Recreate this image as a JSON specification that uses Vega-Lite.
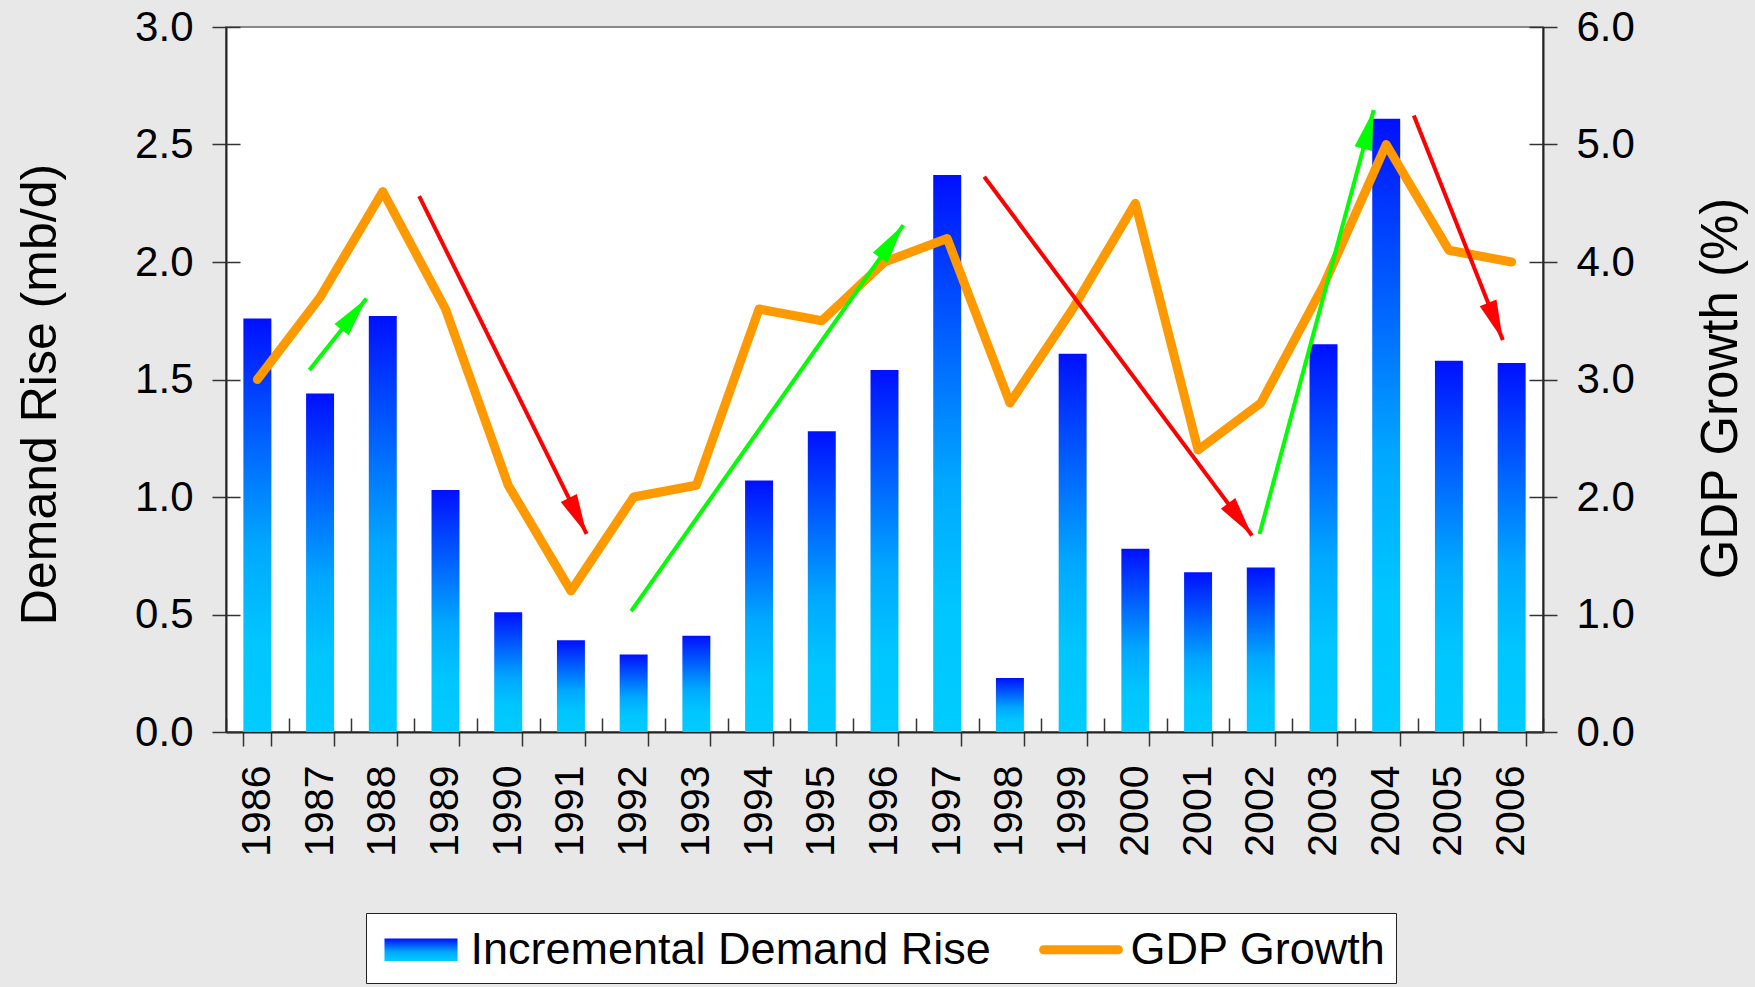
{
  "$schema": "https://vega.github.io/schema/vega-lite/v6.json",
  "autosize": "none",
  "width": 1317,
  "height": 705,
  "padding": {"left": 226, "top": 27, "right": 212, "bottom": 255},
  "background": "#e8e8e8",
  "config": {
    "view": {"fill": "white", "stroke": "#888888", "strokeWidth": 2},
    "axis": {
      "labelFont": "Liberation Sans",
      "titleFont": "Liberation Sans",
      "labelColor": "#000000",
      "titleColor": "#000000",
      "titleFontWeight": "normal",
      "tickColor": "#333333",
      "tickWidth": 1.5,
      "domainColor": "#222222",
      "domainWidth": 2,
      "grid": false
    },
    "legend": {"labelFont": "Liberation Sans"}
  },
  "datasets": {
    "main": [
      {"year": 1986, "demand": 1.76, "gdp": 3.0},
      {"year": 1987, "demand": 1.44, "gdp": 3.7},
      {"year": 1988, "demand": 1.77, "gdp": 4.6},
      {"year": 1989, "demand": 1.03, "gdp": 3.6},
      {"year": 1990, "demand": 0.51, "gdp": 2.1},
      {"year": 1991, "demand": 0.39, "gdp": 1.2},
      {"year": 1992, "demand": 0.33, "gdp": 2.0},
      {"year": 1993, "demand": 0.41, "gdp": 2.1},
      {"year": 1994, "demand": 1.07, "gdp": 3.6},
      {"year": 1995, "demand": 1.28, "gdp": 3.5},
      {"year": 1996, "demand": 1.54, "gdp": 4.0},
      {"year": 1997, "demand": 2.37, "gdp": 4.2},
      {"year": 1998, "demand": 0.23, "gdp": 2.8},
      {"year": 1999, "demand": 1.61, "gdp": 3.6},
      {"year": 2000, "demand": 0.78, "gdp": 4.5},
      {"year": 2001, "demand": 0.68, "gdp": 2.4},
      {"year": 2002, "demand": 0.70, "gdp": 2.8},
      {"year": 2003, "demand": 1.65, "gdp": 3.8},
      {"year": 2004, "demand": 2.61, "gdp": 5.0},
      {"year": 2005, "demand": 1.58, "gdp": 4.1},
      {"year": 2006, "demand": 1.57, "gdp": 4.0}
    ],
    "arrows": [
      {"dir": "up", "x1": 1986.83, "y1": 1.54, "x2": 1987.74, "y2": 1.845},
      {"dir": "down", "x1": 1988.58, "y1": 2.28, "x2": 1991.25, "y2": 0.843},
      {"dir": "up", "x1": 1991.96, "y1": 0.514, "x2": 1996.3, "y2": 2.157},
      {"dir": "down", "x1": 1997.59, "y1": 2.363, "x2": 2001.86, "y2": 0.836},
      {"dir": "up", "x1": 2001.98, "y1": 0.843, "x2": 2003.8, "y2": 2.647},
      {"dir": "down", "x1": 2004.44, "y1": 2.623, "x2": 2005.86, "y2": 1.668}
    ]
  },
  "resolve": {"scale": {"x": "independent", "y": "independent"}},
  "layer": [
    {
      "data": {"name": "main"},
      "mark": {
        "type": "bar",
        "color": {
          "gradient": "linear",
          "x1": 0, "y1": 0, "x2": 0, "y2": 1,
          "stops": [
            {"offset": 0, "color": "#0010ff"},
            {"offset": 0.55, "color": "#00a8ff"},
            {"offset": 0.78, "color": "#00c6ff"},
            {"offset": 1, "color": "#00ccff"}
          ]
        }
      },
      "encoding": {
        "x": {
          "field": "year",
          "type": "ordinal",
          "scale": {"type": "band", "paddingInner": 0.554, "paddingOuter": 0.277},
          "axis": {
            "orient": "bottom",
            "title": null,
            "tickBand": "extent",
            "tickSize": 14,
            "labelAngle": -90,
            "labelFontSize": 41,
            "labelPadding": 19
          }
        },
        "y": {
          "field": "demand",
          "type": "quantitative",
          "scale": {"domain": [0, 3], "nice": false},
          "axis": {
            "orient": "left",
            "values": [0, 0.5, 1, 1.5, 2, 2.5, 3],
            "format": ".1f",
            "tickSize": 14,
            "labelFontSize": 42,
            "labelPadding": 19,
            "title": "Demand Rise (mb/d)",
            "titleFontSize": 50,
            "titleAngle": -90,
            "titleAlign": "center",
            "titleBaseline": "middle",
            "titleX": -186,
            "titleY": 367
          }
        }
      }
    },
    {
      "data": {"name": "main"},
      "mark": {"type": "line", "strokeWidth": 9, "strokeJoin": "round", "strokeCap": "round"},
      "encoding": {
        "x": {
          "field": "year",
          "type": "ordinal",
          "scale": {"type": "point", "padding": 0.5},
          "axis": null
        },
        "y": {
          "field": "gdp",
          "type": "quantitative",
          "scale": {"domain": [0, 6], "nice": false},
          "axis": {
            "orient": "right",
            "values": [0, 1, 2, 3, 4, 5, 6],
            "format": ".1f",
            "tickSize": 14,
            "labelFontSize": 42,
            "labelPadding": 19,
            "title": "GDP Growth (%)",
            "titleFontSize": 51,
            "titleAngle": -90,
            "titleAlign": "center",
            "titleBaseline": "middle",
            "titleX": 178,
            "titleY": 361
          }
        },
        "color": {
          "datum": "GDP Growth",
          "type": "nominal",
          "scale": {"domain": ["Incremental Demand Rise", "GDP Growth"], "range": ["#0030ff", "#ff9900"]},
          "legend": {
            "title": null,
            "orient": "none",
            "legendX": 140,
            "legendY": 886,
            "direction": "horizontal",
            "fillColor": "white",
            "strokeColor": "#222222",
            "padding": 10,
            "labelFontSize": 45,
            "labelLimit": 1000,
            "labelColor": "#000000",
            "labelOffset": 23,
            "columnPadding": 34,
            "symbolSize": 1936,
            "symbolOffset": 18.5,
            "encode": {
              "symbols": {
                "update": {
                  "shape": [
                    {"test": "datum.value === 'GDP Growth'", "value": "M-1.7,0H1.7"},
                    {"value": "M-1.66,-0.51H1.66V0.51H-1.66Z"}
                  ],
                  "fill": [
                    {"test": "datum.value === 'GDP Growth'", "value": "transparent"},
                    {"value": {
                      "gradient": "linear",
                      "x1": 0, "y1": 0, "x2": 0, "y2": 1,
                      "stops": [
                        {"offset": 0, "color": "#0010ff"},
                        {"offset": 0.6, "color": "#00a8ff"},
                        {"offset": 1, "color": "#00ccff"}
                      ]
                    }}
                  ],
                  "stroke": [
                    {"test": "datum.value === 'GDP Growth'", "value": "#ff9900"},
                    {"value": "transparent"}
                  ],
                  "strokeOpacity": [
                    {"test": "datum.value === 'GDP Growth'", "value": 1},
                    {"value": 0}
                  ],
                  "strokeWidth": {"value": 9},
                  "strokeCap": {"value": "round"},
                  "size": {"value": 1936},
                  "opacity": {"value": 1}
                }
              }
            }
          }
        }
      }
    },
    {
      "data": {"name": "arrows"},
      "mark": {"type": "rule", "strokeWidth": 4},
      "encoding": {
        "x": {
          "field": "x1",
          "type": "quantitative",
          "scale": {"domain": [1985.5, 2006.5], "nice": false, "zero": false},
          "axis": {
            "orient": "bottom",
            "values": [1985.5, 1986.5, 1987.5, 1988.5, 1989.5, 1990.5, 1991.5, 1992.5, 1993.5, 1994.5, 1995.5, 1996.5, 1997.5, 1998.5, 1999.5, 2000.5, 2001.5, 2002.5, 2003.5, 2004.5, 2005.5, 2006.5],
            "tickSize": -14,
            "labels": false,
            "domain": false,
            "title": null
          }
        },
        "x2": {"field": "x2"},
        "y": {
          "field": "y1",
          "type": "quantitative",
          "scale": {"domain": [0, 3], "nice": false},
          "axis": {
            "orient": "left",
            "values": [0, 0.5, 1, 1.5, 2, 2.5, 3],
            "tickSize": -14,
            "labels": false,
            "domain": false,
            "title": null
          }
        },
        "y2": {"field": "y2"},
        "stroke": {
          "field": "dir",
          "type": "nominal",
          "scale": {"domain": ["up", "down"], "range": ["#00ff00", "#ff0000"]},
          "legend": null
        }
      }
    },
    {
      "data": {"name": "arrows"},
      "transform": [
        {"calculate": "atan2((datum.x2 - datum.x1) * 62.71, (datum.y2 - datum.y1) * 235) * 180 / PI", "as": "ang"}
      ],
      "mark": {"type": "point", "shape": "M0,0L0.45,2L-0.45,2Z", "filled": true, "size": 1600, "strokeWidth": 0, "opacity": 1},
      "encoding": {
        "x": {
          "field": "x2",
          "type": "quantitative",
          "scale": {"domain": [1985.5, 2006.5], "nice": false, "zero": false},
          "axis": null
        },
        "y": {
          "field": "y2",
          "type": "quantitative",
          "scale": {"domain": [0, 3], "nice": false},
          "axis": {
            "orient": "right",
            "values": [0, 0.5, 1, 1.5, 2, 2.5, 3],
            "tickSize": -14,
            "labels": false,
            "domain": false,
            "title": null
          }
        },
        "angle": {"field": "ang", "type": "quantitative", "scale": null},
        "fill": {
          "field": "dir",
          "type": "nominal",
          "scale": {"domain": ["up", "down"], "range": ["#00ff00", "#ff0000"]},
          "legend": null
        }
      }
    }
  ]
}
